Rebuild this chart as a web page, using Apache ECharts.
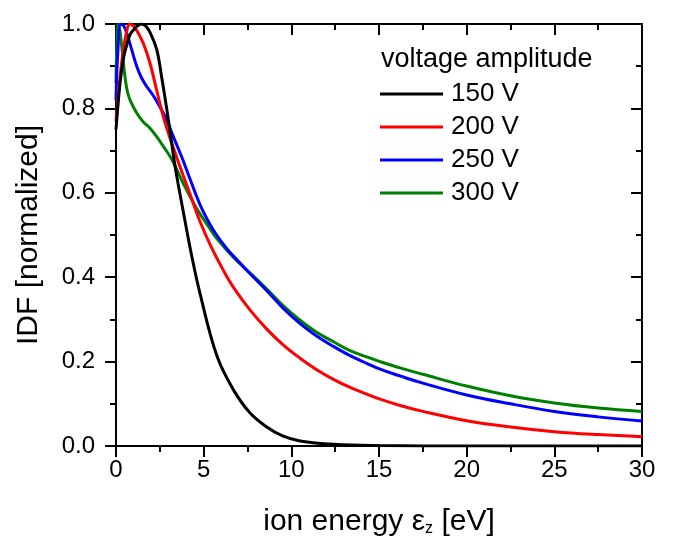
<!DOCTYPE html>
<html>
<head>
<meta charset="utf-8">
<script src="https://cdn.jsdelivr.net/npm/echarts@6/dist/echarts.min.js"></script>
<style>html,body{margin:0;padding:0;background:#fff}#c{width:675px;height:546px}</style>
</head>
<body>
<div id="c"></div>
<script>
const seriesNames = ['150 V', '200 V', '250 V', '300 V'];
const seriesColors = ['#000000', '#ff0000', '#0000ff', '#008000'];
const xTicks = [0, 5, 10, 15, 20, 25, 30];
const yTicks = [0.0, 0.2, 0.4, 0.6, 0.8, 1.0];

const e150 = [0, 0.23, 0.43, 0.61, 0.8, 0.98, 1.2, 1.46, 1.7, 1.94, 2.32, 2.6, 2.89, 3.17, 3.4, 3.83, 4.32, 4.8, 5.76, 6.7, 7.65, 8.6, 9.5, 10.5, 12.4, 15, 20, 30];
const v150 = [0.75, 0.86, 0.92, 0.95, 0.975, 0.985, 0.995, 1.0, 0.995, 0.98, 0.94, 0.875, 0.80, 0.72, 0.655, 0.557, 0.45, 0.36, 0.213, 0.133, 0.078, 0.045, 0.024, 0.012, 0.004, 0.001, 0, 0];

const e200 = [0, 0.3, 0.55, 0.8, 1.0, 1.18, 1.56, 1.94, 2.32, 2.7, 3.08, 3.65, 4.22, 4.79, 5.45, 6.1, 6.7, 7.65, 8.6, 9.5, 10.5, 11.4, 12.4, 13.35, 14.3, 15.06, 16.2, 17.5, 20, 22.5, 25, 27.5, 30];
const v200 = [0.77, 0.9, 0.97, 1.0, 0.995, 0.985, 0.954, 0.907, 0.843, 0.78, 0.73, 0.662, 0.597, 0.532, 0.47, 0.418, 0.376, 0.322, 0.277, 0.241, 0.208, 0.182, 0.158, 0.139, 0.123, 0.111, 0.096, 0.082, 0.06, 0.045, 0.034, 0.027, 0.022];

const e250 = [0, 0.1, 0.27, 0.45, 0.6, 0.89, 1.18, 1.46, 1.75, 2.13, 2.5, 2.89, 3.27, 3.74, 4.2, 4.79, 5.36, 5.74, 6.31, 6.7, 7.26, 7.65, 8.6, 9.5, 10.5, 11.4, 12.4, 13.35, 14.3, 15.06, 16.2, 17.5, 20, 22.5, 25, 27.5, 30];
const v250 = [0.82, 0.93, 1.0, 0.995, 0.98, 0.94, 0.90, 0.872, 0.852, 0.83, 0.804, 0.773, 0.733, 0.686, 0.635, 0.572, 0.525, 0.50, 0.468, 0.45, 0.425, 0.408, 0.368, 0.328, 0.29, 0.262, 0.236, 0.214, 0.196, 0.182, 0.166, 0.149, 0.121, 0.1, 0.082, 0.069, 0.059];

const e300 = [0, 0.05, 0.13, 0.22, 0.32, 0.51, 0.65, 0.8, 1.18, 1.56, 1.94, 2.32, 2.7, 3.17, 3.84, 4.6, 5.36, 5.74, 6.7, 7.65, 8.6, 9.5, 10.5, 11.4, 12.4, 13.35, 14.3, 15.06, 16.2, 17.5, 20, 22.5, 25, 27.5, 30];
const v300 = [0.86, 0.95, 1.0, 0.985, 0.95, 0.875, 0.84, 0.82, 0.789, 0.768, 0.753, 0.733, 0.71, 0.68, 0.622, 0.563, 0.515, 0.492, 0.447, 0.41, 0.372, 0.334, 0.298, 0.271, 0.247, 0.226, 0.211, 0.200, 0.185, 0.170, 0.142, 0.119, 0.102, 0.09, 0.082];

const allE = [e150, e200, e250, e300];
const allV = [v150, v200, v250, v300];

const FONT = '"Liberation Sans", Arial, Helvetica, sans-serif';
const chart = echarts.init(document.getElementById('c'), null, {renderer: 'canvas'});

const axisLine = {show: true, onZero: false, lineStyle: {color: '#000', width: 2}};
const tickStyle = {color: '#000', width: 2};

const option = {
  animation: false,
  backgroundColor: '#fff',
  textStyle: {fontFamily: FONT},
  title: {
    text: 'voltage amplitude', left: 376, top: 41,
    textStyle: {fontFamily: FONT, fontSize: 27, fontWeight: 'normal', color: '#000'}
  },
  legend: {
    orient: 'vertical', left: 375, top: 76,
    itemWidth: 63, itemHeight: 3, itemGap: 7, icon: 'rect',
    data: seriesNames,
    textStyle: {fontFamily: FONT, fontSize: 26, color: '#000', lineHeight: 26, padding: [0, 0, 0, 3]}
  },
  grid: {left: 116, right: 33, top: 24, bottom: 100, containLabel: false},
  xAxis: [{
    type: 'value', min: 0, max: 30, interval: 5, position: 'bottom',
    name: 'ion energy ε{sub|z} [eV]', nameLocation: 'middle', nameGap: 60,
    nameTextStyle: {fontFamily: FONT, fontSize: 30, color: '#000',
      rich: {sub: {fontFamily: FONT, fontSize: 16, color: '#000', padding: [15, 0, 0, 0]}}},
    axisLine: axisLine,
    axisTick: {show: true, inside: false, length: 11, lineStyle: tickStyle},
    minorTick: {show: true, splitNumber: 2, length: 6, lineStyle: tickStyle},
    axisLabel: {show: true, fontFamily: FONT, fontSize: 24, color: '#000', margin: 12},
    splitLine: {show: false}
  }, {
    type: 'value', min: 0, max: 30, interval: 5, position: 'top',
    axisLine: axisLine,
    axisTick: {show: true, inside: true, length: 11, lineStyle: tickStyle},
    minorTick: {show: true, splitNumber: 2, length: 6, lineStyle: tickStyle},
    axisLabel: {show: false}, splitLine: {show: false}
  }],
  yAxis: [{
    type: 'value', min: 0, max: 1, interval: 0.2, position: 'left',
    name: 'IDF [normalized]', nameLocation: 'middle', nameGap: 72, nameRotate: 90,
    nameTextStyle: {fontFamily: FONT, fontSize: 30, color: '#000'},
    axisLine: axisLine,
    axisTick: {show: true, inside: false, length: 11, lineStyle: tickStyle},
    minorTick: {show: true, splitNumber: 2, length: 6, lineStyle: tickStyle},
    axisLabel: {show: true, fontFamily: FONT, fontSize: 24, color: '#000', margin: 21,
      formatter: v => v.toFixed(1)},
    splitLine: {show: false}
  }, {
    type: 'value', min: 0, max: 1, interval: 0.2, position: 'right',
    axisLine: axisLine,
    axisTick: {show: true, inside: true, length: 11, lineStyle: tickStyle},
    minorTick: {show: true, splitNumber: 2, length: 6, lineStyle: tickStyle},
    axisLabel: {show: false}, splitLine: {show: false}
  }],
  series: seriesNames.map((n, i) => ({
    name: n, type: 'line', xAxisIndex: 0, yAxisIndex: 0,
    data: allE[i].map((e, j) => [e, allV[i][j]]),
    smooth: 0.4, showSymbol: false, symbol: 'none', clip: true,
    color: seriesColors[i],
    lineStyle: {color: seriesColors[i], width: 3},
    itemStyle: {color: seriesColors[i]},
    z: 10 - i
  }))
};
chart.setOption(option);
</script>
</body>
</html>
